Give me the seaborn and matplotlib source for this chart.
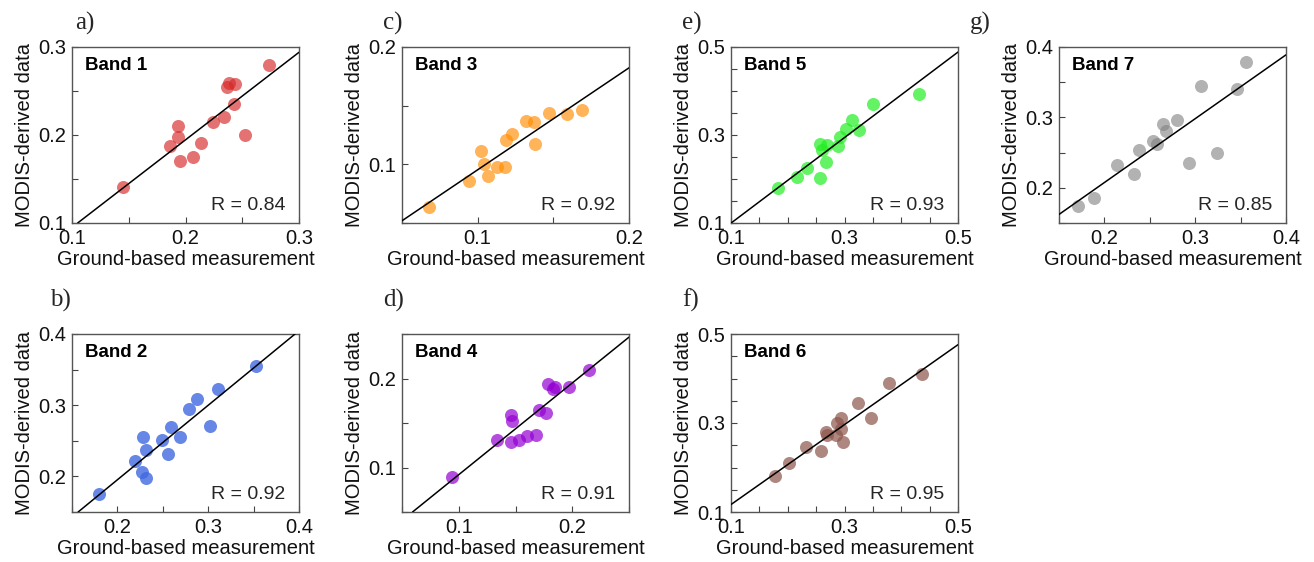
import numpy as np
import pandas as pd
import matplotlib
matplotlib.use("Agg")
import matplotlib.pyplot as plt
import seaborn as sns
from matplotlib.ticker import FixedLocator, MultipleLocator

# -------------------------------
# DATOS

band1_x = [0.274, 0.238, 0.237, 0.244, 0.243, 0.234, 0.224, 0.252, 0.193, 0.193, 0.186, 0.214, 0.207, 0.195, 0.145]
band1_y = [0.280, 0.259, 0.254, 0.258, 0.235, 0.220, 0.215, 0.200, 0.210, 0.198, 0.188, 0.191, 0.175, 0.171, 0.141]

band2_x = [0.180, 0.219, 0.227, 0.231, 0.228, 0.231, 0.249, 0.256, 0.259, 0.269, 0.279, 0.288, 0.302, 0.311, 0.353]
band2_y = [0.175, 0.221, 0.206, 0.198, 0.255, 0.237, 0.251, 0.232, 0.269, 0.255, 0.295, 0.309, 0.271, 0.323, 0.355]

band3_x = [0.068, 0.094, 0.102, 0.104, 0.107, 0.113, 0.118, 0.119, 0.123, 0.132, 0.137, 0.138, 0.147, 0.159, 0.169]
band3_y = [0.064, 0.086, 0.111, 0.100, 0.090, 0.098, 0.098, 0.121, 0.126, 0.137, 0.136, 0.117, 0.144, 0.143, 0.146]

band4_x = [0.094, 0.134, 0.146, 0.147, 0.146, 0.153, 0.160, 0.168, 0.171, 0.177, 0.179, 0.183, 0.185, 0.197, 0.215]
band4_y = [0.089, 0.131, 0.159, 0.152, 0.129, 0.131, 0.135, 0.137, 0.165, 0.161, 0.194, 0.188, 0.191, 0.191, 0.210]

band5_x = [0.182, 0.216, 0.234, 0.256, 0.267, 0.257, 0.260, 0.270, 0.288, 0.292, 0.302, 0.313, 0.325, 0.351, 0.432]
band5_y = [0.179, 0.204, 0.225, 0.202, 0.239, 0.279, 0.265, 0.277, 0.275, 0.296, 0.313, 0.333, 0.312, 0.371, 0.394]

band6_x = [0.177, 0.202, 0.233, 0.259, 0.268, 0.269, 0.285, 0.287, 0.293, 0.293, 0.297, 0.324, 0.347, 0.379, 0.437]
band6_y = [0.181, 0.209, 0.245, 0.238, 0.279, 0.274, 0.274, 0.300, 0.312, 0.287, 0.257, 0.345, 0.311, 0.389, 0.410]

band7_x = [0.171, 0.188, 0.214, 0.233, 0.238, 0.253, 0.258, 0.264, 0.268, 0.280, 0.293, 0.306, 0.324, 0.346, 0.356]
band7_y = [0.174, 0.186, 0.233, 0.220, 0.254, 0.266, 0.262, 0.290, 0.280, 0.297, 0.235, 0.345, 0.250, 0.341, 0.379]

bandas = ["Band 1", "Band 2", "Band 3", "Band 4", "Band 5", "Band 6", "Band 7"]
letras = ["a)", "b)", "c)", "d)", "e)", "f)", "g)"]
valores_r = ["0.84", "0.92", "0.92", "0.91", "0.93", "0.95", "0.85"]
colores = ["tab:red", "royalblue", "darkorange", "darkviolet", "#22ee22", "tab:brown", "gray"]
alfas = [0.65, 0.8, 0.65, 0.7, 0.7, 0.7, 0.6]
limites = [(0.1, 0.3), (0.15, 0.4), (0.05, 0.2), (0.05, 0.25), (0.1, 0.5), (0.1, 0.5), (0.15, 0.4)]
ticks = [[0.1, 0.2, 0.3], [0.2, 0.3, 0.4], [0.1, 0.2], [0.1, 0.2],
         [0.1, 0.3, 0.5], [0.1, 0.3, 0.5], [0.2, 0.3, 0.4]]

xs = [band1_x, band2_x, band3_x, band4_x, band5_x, band6_x, band7_x]
ys = [band1_y, band2_y, band3_y, band4_y, band5_y, band6_y, band7_y]

# -------------------------------
# FIGURA

sns.set_style("ticks")
plt.rcParams['font.family'] = ['Liberation Sans', 'DejaVu Sans']

W, H = 1314, 562
fig = plt.figure(figsize=(W / 100, H / 100), dpi=100)

# posiciones en pixeles: (izquierda, arriba, abajo)
col_left = [72, 72, 402, 402, 731, 731, 1059]
fila_top = [47, 334, 47, 334, 47, 334, 47]
fila_bot = [223, 512, 223, 512, 223, 512, 223]
letra_pos = [(75, 23), (50, 300), (383, 23), (383, 300), (682, 23), (682, 300), (970, 23)]

for i in range(7):
    l, t, b = col_left[i], fila_top[i], fila_bot[i]
    ax = fig.add_axes([l / W, 1 - b / H, 227 / W, (b - t) / H])
    df = pd.DataFrame({'ground': xs[i], 'modis': ys[i]})
    sns.scatterplot(data=df, x='ground', y='modis', ax=ax, color=colores[i],
                    alpha=alfas[i], s=88, linewidth=0, zorder=2)
    m, c = np.polyfit(df['ground'], df['modis'], 1)
    ax.axline((0, c), slope=m, color='black', lw=1.1, zorder=3)

    lo, hi = limites[i]
    ax.set_xlim(lo, hi)
    ax.set_ylim(lo, hi)
    ax.xaxis.set_major_locator(FixedLocator(ticks[i]))
    ax.yaxis.set_major_locator(FixedLocator(ticks[i]))
    ax.xaxis.set_minor_locator(MultipleLocator(0.05))
    ax.yaxis.set_minor_locator(MultipleLocator(0.05))
    ax.tick_params(which='both', direction='in', colors='#444444', labelcolor='#111111',
                   labelsize=14.5, length=4, width=0.8, pad=4)
    for sp in ax.spines.values():
        sp.set_color('#555555')
        sp.set_linewidth(1.0)

    ax.set_xlabel("Ground-based measurement", fontsize=14.5, color='#111111', labelpad=2)
    ax.set_ylabel("MODIS-derived data", fontsize=14.5, color='#111111', labelpad=3)
    ax.text(0.057, 0.895, bandas[i], transform=ax.transAxes, fontsize=13.5,
            fontweight='bold', color='black', ha='left', va='center')
    ax.text(0.94, 0.075, "R = " + valores_r[i], transform=ax.transAxes, fontsize=14,
            ha='right', va='baseline')

    lx, ly = letra_pos[i]
    fig.text(lx / W, 1 - ly / H, letras[i], fontsize=18, family='Liberation Serif',
             ha='left', va='center')

fig.savefig("out.png", dpi=100)
